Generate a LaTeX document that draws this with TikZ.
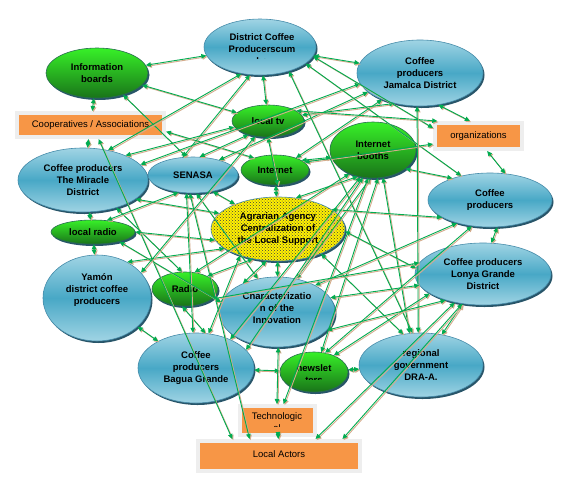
\documentclass[tikz,border=0pt]{standalone}
\usepackage{fontspec}
\setmainfont{Liberation Sans}
\usetikzlibrary{shapes.geometric,arrows.meta,patterns,shadows}
\definecolor{bluetop}{RGB}{160,212,228}
\definecolor{bluemid}{RGB}{72,168,198}
\definecolor{blueedge}{RGB}{70,140,170}
\definecolor{shadowc}{RGB}{40,85,105}
\definecolor{greentop}{RGB}{55,240,40}
\definecolor{greenbot}{RGB}{25,115,25}
\definecolor{greenedge}{RGB}{40,110,80}
\definecolor{orangef}{RGB}{247,150,70}
\definecolor{framec}{RGB}{238,238,238}
\definecolor{tanc}{RGB}{212,172,140}
\definecolor{linkg}{RGB}{0,172,80}
\definecolor{agyellow}{RGB}{255,240,0}
\tikzset{
  txtfont/.style={font=\fontsize{9.5}{12}\selectfont\bfseries},
  ell/.style={ellipse, inner sep=0pt, align=center, text=black, txtfont,
    drop shadow={shadow xshift=1.5pt, shadow yshift=-2pt, fill=shadowc, opacity=1}},
  bnode/.style={ell, draw=blueedge, line width=0.6pt,
    top color=bluetop, bottom color=bluetop, middle color=bluemid},
  gnode/.style={ell, draw=greenedge, line width=0.6pt,
    top color=greentop, bottom color=greenbot},
  anode/.style={ell, draw=blueedge, line width=0.6pt,
    preaction={fill=agyellow}, pattern=crosshatch dots, pattern color=black!75},
  obox/.style={rectangle, inner sep=0pt, fill=orangef, draw=framec, line width=4pt,
    align=center, font=\fontsize{9.5}{12}\selectfont,
    drop shadow={shadow xshift=2pt, shadow yshift=-2pt, fill=tanc, opacity=1}},
  lnk/.style={draw=linkg, line width=0.9pt,
    {Triangle[length=5pt,width=4.5pt]}-{Triangle[length=5pt,width=4.5pt]}},
  lsh/.style={draw=tanc, line width=0.9pt,
    {Triangle[length=5pt,width=4.5pt]}-{Triangle[length=5pt,width=4.5pt]},
    transform canvas={xshift=1.1pt, yshift=-1.1pt}},
  lbl/.style={txtfont, align=center, inner sep=0pt}
}
\newcommand\lnk[2]{\draw[lsh] (#1) -- (#2); \draw[lnk] (#1) -- (#2);}
\begin{document}
\begin{tikzpicture}[x=1pt,y=-1pt]
\fill[white] (0,0) rectangle (584,483);
\useasboundingbox (0,0) rectangle (584,483);
% ---- nodes ----
\node[gnode, minimum width=102pt, minimum height=50pt] (ib) at (97,73) {Information\\boards};
\node[bnode, minimum width=112pt, minimum height=56pt] (dc) at (260,47) {};
\begin{scope}
  \clip (200,15) rectangle (320,58);
  \node[lbl] at (262,49) {District Coffee\\Producerscum\\ba};
\end{scope}
\node[bnode, minimum width=126pt, minimum height=66pt] (ja) at (420,73) {Coffee\\producers\\Jamalca District};
\node[obox, minimum width=147pt, minimum height=24pt] (coop) at (90.5,125) {Cooperatives / Associations};
\node[gnode, minimum width=72pt, minimum height=32pt] (ltv) at (268,121) {local tv};
\node[obox, minimum width=87pt, minimum height=26pt] (org) at (478.5,136) {\raisebox{2pt}{organizations}};
\node[gnode, minimum width=86pt, minimum height=56pt] (ibo) at (373,150) {Internet\\booths};
\node[bnode, minimum width=130pt, minimum height=64pt] (mir) at (83,180) {Coffee producers\\The Miracle\\District};
\node[bnode, minimum width=90pt, minimum height=36pt] (sen) at (193,175) {SENASA};
\node[gnode, minimum width=68pt, minimum height=30pt] (inet) at (275,170) {Internet};
\node[bnode, minimum width=124pt, minimum height=54pt] (cpr) at (490,200) {Coffee\\producers};
\node[anode, minimum width=134pt, minimum height=64pt] (agr) at (278,229) {Agrarian Agency\\Centralization of\\the Local Support};
\node[gnode, minimum width=84pt, minimum height=24pt] (lr) at (93,232) {local radio};
\node[bnode, minimum width=136pt, minimum height=62pt] (lon) at (483,274) {Coffee producers\\Lonya Grande\\District};
\node[bnode, minimum width=108pt, minimum height=86pt] (yam) at (97,298) {};
\node[lbl] at (97,290) {Yam\'on\\district coffee\\producers};
\node[gnode, minimum width=66pt, minimum height=34pt] (rad) at (185,289) {Radio};
\node[bnode, minimum width=116pt, minimum height=70pt] (cha) at (277,312) {};
\node[lbl] at (277,308.5) {Characterizatio\\n of the\\Innovation};
\node[bnode, minimum width=116pt, minimum height=70pt] (bag) at (196,368) {Coffee\\producers\\Bagua Grande};
\node[gnode, minimum width=68pt, minimum height=40pt] (nws) at (314,372) {};
\begin{scope}
  \clip (270,350) rectangle (360,379);
  \node[lbl] at (314,374) {newslet\\ters};
\end{scope}
\node[bnode, minimum width=124pt, minimum height=64pt] (reg) at (421,365) {regional\\government\\DRA-A.};
\node[obox, minimum width=75pt, minimum height=29pt] (tec) at (277.5,420.5) {};
\begin{scope}
  \clip (240,405) rectangle (315,426);
  \node[lbl, font=\fontsize{9.5}{12}\selectfont] at (277,422) {Technologic\\al};
\end{scope}
\node[obox, minimum width=162pt, minimum height=30pt] (la) at (279,456) {\raisebox{4pt}{Local Actors}};
% ---- connectors: outer ring ----
\lnk{ib}{dc}
\lnk{ib}{coop}
\lnk{coop}{mir}
\lnk{mir}{lr}
\lnk{lr}{yam}
\lnk{yam}{bag}
\lnk{bag.75}{rad.260}
\lnk{nws}{bag}
\lnk{nws}{reg}
\lnk{reg}{lon}
\lnk{lon.75}{cpr.285}
\lnk{cpr.60}{org.-60}
\lnk{org.120}{ja.-60}
\lnk{ja}{dc}
\lnk{dc}{ltv}
\lnk{ltv.270}{inet.280}
\lnk{inet}{agr}
\lnk{agr}{cha}
\lnk{cha.272}{tec.92}
\lnk{tec}{la}
% ---- cross connectors ----
\lnk{ib.-15}{ltv.165}
\lnk{ib.-40}{sen.110}
\lnk{mir.50}{dc.235}
\lnk{sen.120}{dc.250}
\lnk{coop.-5}{inet.150}
\lnk{coop.-60}{la.160}
\lnk{sen.70}{ltv.215}
\lnk{mir.30}{ltv.190}
\lnk{sen.30}{ja.200}
\lnk{mir.15}{ja.190}
\lnk{mir.-20}{agr.165}
\lnk{mir.-40}{rad.100}
\lnk{sen.230}{lr.40}
\lnk{sen.-40}{agr.150}
\lnk{agr.190}{lr.0}
\lnk{yam.50}{agr.200}
\lnk{sen.-80}{cha.120}
\lnk{sen.-100}{la.150}
\lnk{sen.250}{bag.95}
\lnk{ja.215}{inet.30}
\lnk{ja.230}{ltv.10}
\lnk{ibo.190}{inet.20}
\lnk{ibo.240}{agr.60}
\lnk{ibo.-30}{cpr.150}
\lnk{ibo.-95}{cha.60}
\lnk{ibo.-80}{nws.70}
\lnk{ibo.-70}{reg.110}
\lnk{ibo.-115}{bag.40}
\lnk{ibo.-100}{tec.70}
\lnk{dc.-20}{cpr.140}
\lnk{dc.-10}{org.170}
\lnk{ltv.20}{org.160}
\lnk{inet.15}{org.190}
\lnk{dc.-40}{reg.105}
\lnk{ja.-95}{reg.95}
\lnk{agr.-2}{lon.175}
\lnk{agr.20}{cpr.200}
\lnk{agr.230}{rad.30}
\lnk{agr.215}{bag.70}
\lnk{agr.-30}{reg.120}
\lnk{agr.250}{cha.140}
\lnk{cha.15}{lon.190}
\lnk{cha.35}{cpr.215}
\lnk{nws.40}{lon.200}
\lnk{nws.60}{cpr.235}
\lnk{cha.-20}{lon.215}
\lnk{la.15}{lon.235}
\lnk{la.25}{lon.225}
\lnk{rad.60}{ibo.225}
\lnk{rad.-20}{lon.170}
\lnk{bag.20}{ibo.250}
\lnk{lr.-20}{cha.170}
\lnk{yam.30}{ltv.230}
\end{tikzpicture}
\end{document}
